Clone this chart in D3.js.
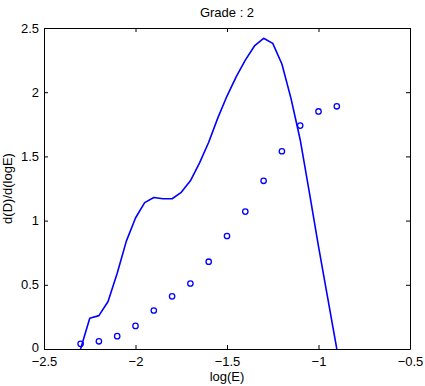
<!DOCTYPE html>
<html>
<head>
<meta charset="utf-8">
<script src="https://cdn.jsdelivr.net/npm/d3@7"></script>
<style>
  body { margin: 0; background: #fff; }
  text { font-family: "Liberation Sans", Arial, sans-serif; font-size: 13px; fill: #000; }
</style>
</head>
<body>
<div id="chart"></div>
<script>
// curve d(D)/d(logE), sampled every 0.05 in log(E)
const lineX = [-2.3, -2.25, -2.2, -2.15, -2.1, -2.05, -2.0, -1.95, -1.9, -1.85, -1.8, -1.75, -1.7, -1.65, -1.6,
  -1.55, -1.5, -1.45, -1.4, -1.35, -1.3, -1.25, -1.2, -1.15, -1.1, -1.05, -1.0, -0.95, -0.9];
const lineY = [0.0, 0.24, 0.26, 0.37, 0.59, 0.84, 1.02, 1.14, 1.18, 1.17, 1.17, 1.22, 1.31, 1.45, 1.61,
  1.80, 1.97, 2.12, 2.25, 2.36, 2.42, 2.38, 2.22, 1.95, 1.63, 1.22, 0.80, 0.40, 0.0];

// circle markers
const dotX = [-2.3, -2.2, -2.1, -2.0, -1.9, -1.8, -1.7, -1.6, -1.5, -1.4, -1.3, -1.2, -1.1, -1.0, -0.9];
const dotY = [0.04, 0.06, 0.10, 0.18, 0.30, 0.41, 0.51, 0.68, 0.88, 1.07, 1.31, 1.54, 1.74, 1.85, 1.89];

const xTicks = [-2.5, -2, -1.5, -1, -0.5];
const yTicks = [0, 0.5, 1, 1.5, 2, 2.5];

const W = 425, H = 386;
const margin = { top: 28, right: 15, bottom: 37, left: 44 };
const width = W - margin.left - margin.right;
const height = H - margin.top - margin.bottom;
const blue = '#0000ff';

const svg = d3.select('#chart').append('svg')
  .attr('width', W).attr('height', H);

const g = svg.append('g').attr('transform', `translate(${margin.left},${margin.top})`);

const x = d3.scaleLinear().domain([-2.5, -0.5]).range([0, width]);
const y = d3.scaleLinear().domain([0, 2.5]).range([height, 0]);

const fmt = d => d3.format('')(d).replace('-', '\u2212');

// axes with inward ticks on all four sides (box)
g.append('g').attr('transform', `translate(0,${height})`)
  .call(d3.axisBottom(x).tickValues(xTicks).tickFormat(fmt).tickSizeInner(-4).tickSizeOuter(0).tickPadding(8));
g.append('g')
  .call(d3.axisTop(x).tickValues(xTicks).tickFormat('').tickSizeInner(-4).tickSizeOuter(0));
const yAxis = g.append('g')
  .call(d3.axisLeft(y).tickValues(yTicks).tickFormat(fmt).tickSizeInner(-4).tickSizeOuter(0).tickPadding(5));
g.append('g').attr('transform', `translate(${width},0)`)
  .call(d3.axisRight(y).tickValues(yTicks).tickFormat('').tickSizeInner(-4).tickSizeOuter(0));

g.selectAll('.domain').attr('stroke', '#000');
g.selectAll('.tick line').attr('stroke', '#000');
g.selectAll('.tick text').attr('font-size', 12.5).attr('font-family', '"Liberation Sans", Arial, sans-serif').attr('fill', '#000');

// lift the "0" label a little so it clears the x tick labels
yAxis.selectAll('.tick').filter(d => d === 0).select('text').attr('y', -2);

g.append('clipPath').attr('id', 'clip')
  .append('rect').attr('width', width).attr('height', height);

const line = d3.line()
  .x(i => x(lineX[i]))
  .y(i => y(lineY[i]));

g.append('path')
  .attr('clip-path', 'url(#clip)')
  .attr('d', line(d3.range(lineX.length)))
  .attr('fill', 'none')
  .attr('stroke', blue)
  .attr('stroke-width', 1.6)
  .attr('stroke-linejoin', 'round');

g.selectAll('circle.dot')
  .data(d3.range(dotX.length))
  .enter().append('circle')
  .attr('class', 'dot')
  .attr('cx', i => x(dotX[i]))
  .attr('cy', i => y(dotY[i]))
  .attr('r', 2.7)
  .attr('fill', 'none')
  .attr('stroke', blue)
  .attr('stroke-width', 1.3);

// title and axis labels
svg.append('text')
  .attr('x', margin.left + width / 2).attr('y', 17)
  .attr('text-anchor', 'middle')
  .text('Grade : 2');

svg.append('text')
  .attr('x', margin.left + width / 2).attr('y', 381)
  .attr('text-anchor', 'middle')
  .text('log(E)');

svg.append('text')
  .attr('transform', `translate(12,${margin.top + height / 2}) rotate(-90)`)
  .attr('text-anchor', 'middle')
  .text('d(D)/d(logE)');
</script>
</body>
</html>
